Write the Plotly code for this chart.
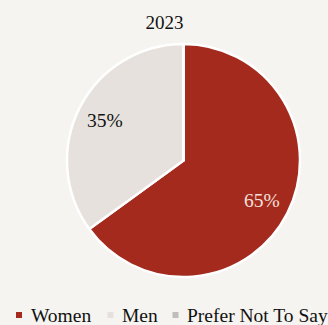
import math
import plotly.graph_objects as go

labels = ["Women", "Men", "Prefer Not To Say"]
values = [65, 35, 0]
colors = ["#a52a1e", "#e6e1dc", "#bfbebc"]
text_colors = ["#f3e0db", "#111111", "#111111"]
title = "2023"

W, H = 328, 325
BG = "#f5f4f0"
FONT = "Liberation Serif"
cx, cy, r = 183.5, 160.5, 116.5

fig = go.Figure(go.Pie(
    labels=labels,
    values=values,
    sort=False,
    direction="clockwise",
    rotation=0,
    marker=dict(colors=colors, line=dict(color="#ffffff", width=2.5)),
    textinfo="none",
    domain=dict(x=[(cx - r) / W, (cx + r) / W], y=[(H - cy - r) / H, (H - cy + r) / H]),
    hoverinfo="label+percent",
    showlegend=False,
))

annotations = []
# percentage labels at 76% of the radius, at each slice's mid-angle
total = sum(values)
cum = 0
for v, tc in zip(values, text_colors):
    if v > 0:
        mid = (cum + v / 2) / total * 2 * math.pi
        px = cx + 0.76 * r * math.sin(mid)
        py = cy - 0.76 * r * math.cos(mid)
        annotations.append(dict(
            text=f"{round(v / total * 100)}%", x=px / W, y=1 - py / H,
            xref="paper", yref="paper", xanchor="center", yanchor="middle",
            showarrow=False, font=dict(size=19.5, family=FONT, color=tc)))
    cum += v

# custom legend row
legend_y = 315
marker_x = [19, 110.5, 175.5]
text_x = [28.5, 119.5, 184.5]
shapes = []
for lab, col, mx, tx in zip(labels, colors, marker_x, text_x):
    shapes.append(dict(type="rect", xref="paper", yref="paper",
                       x0=(mx - 3) / W, x1=(mx + 3) / W,
                       y0=1 - (legend_y + 3) / H, y1=1 - (legend_y - 3) / H,
                       fillcolor=col, line=dict(width=0)))
    annotations.append(dict(text=lab, x=tx / W, y=1 - legend_y / H,
                            xref="paper", yref="paper", xanchor="left", yanchor="middle",
                            showarrow=False, font=dict(size=19.5, family=FONT, color="#111111")))

fig.update_layout(
    width=W, height=H,
    margin=dict(l=0, r=0, t=0, b=0),
    paper_bgcolor=BG,
    plot_bgcolor=BG,
    font=dict(family=FONT, color="#111111", size=19),
    title=dict(text=title, x=164.5 / W, xanchor="center", y=1 - 22 / H, yanchor="middle",
               font=dict(size=19, family=FONT, color="#111111")),
    annotations=annotations,
    shapes=shapes,
    showlegend=False,
)

fig.write_html("out.html")
